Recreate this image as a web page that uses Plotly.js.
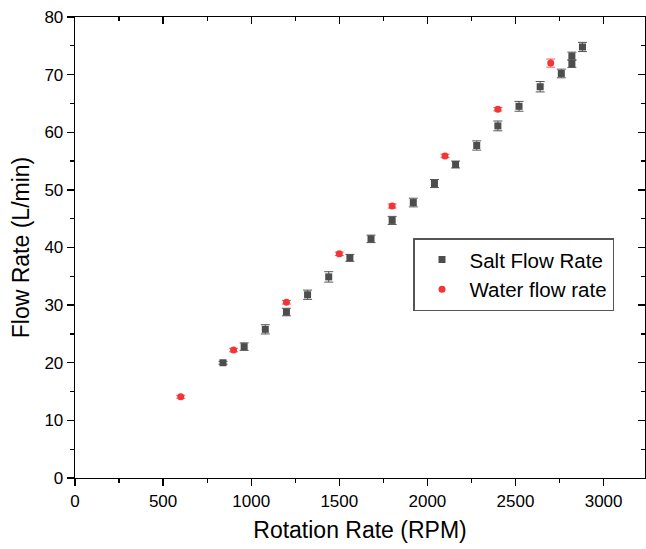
<!DOCTYPE html>
<html>
<head>
<meta charset="utf-8">
<script src="https://cdn.plot.ly/plotly-3.0.1.min.js"></script>
<style>html,body{margin:0;padding:0;background:#fff;}#chart{width:646px;height:549px;}</style>
</head>
<body>
<div id="chart"></div>
<script>
// Salt flow rate data
const saltRPM  = [840, 960, 1080, 1200, 1320, 1440, 1560, 1680, 1800, 1920, 2040, 2160, 2280, 2400, 2520, 2640, 2760, 2820, 2820, 2880];
const saltFlow = [20.0, 22.8, 25.8, 28.8, 31.8, 34.9, 38.2, 41.5, 44.7, 47.8, 51.1, 54.4, 57.7, 61.1, 64.5, 67.9, 70.2, 71.9, 73.2, 74.8];
const saltErr  = [0.25, 0.65, 0.8, 0.65, 0.8, 0.9, 0.6, 0.65, 0.7, 0.75, 0.7, 0.6, 0.8, 0.85, 0.85, 0.9, 0.75, 0.65, 0.7, 0.8];
// Water flow rate data
const waterRPM  = [600, 900, 1200, 1500, 1800, 2100, 2400, 2700];
const waterFlow = [14.1, 22.2, 30.5, 38.9, 47.2, 55.9, 64.0, 72.0];
const waterErr  = [0.25, 0.3, 0.3, 0.3, 0.35, 0.3, 0.3, 0.7];
// Axis ticks
const xTicks = [0, 500, 1000, 1500, 2000, 2500, 3000];
const yTicks = [0, 10, 20, 30, 40, 50, 60, 70, 80];
const xRange = [0, 3235];
const yRange = [0, 80];

const font = 'Arial, "Liberation Sans", sans-serif';

const traces = [
  {
    x: saltRPM, y: saltFlow, name: 'Salt Flow Rate', type: 'scatter', mode: 'markers',
    marker: {symbol: 'square', size: 7, color: '#4d4d4d'},
    error_y: {type: 'data', array: saltErr, visible: true, color: '#555555', thickness: 1, width: 4.5}
  },
  {
    x: waterRPM, y: waterFlow, name: 'Water flow rate', type: 'scatter', mode: 'markers',
    marker: {symbol: 'circle', size: 7, color: '#f23535'},
    error_y: {type: 'data', array: waterErr, visible: true, color: '#f55a5a', thickness: 1, width: 4.5}
  },
  {x: [], y: [], xaxis: 'x2', yaxis: 'y2', showlegend: false, hoverinfo: 'skip', type: 'scatter'}
];

const axisCommon = {
  showgrid: false, zeroline: false, showline: true, linecolor: '#000', linewidth: 1.3,
  tickcolor: '#000', tickwidth: 1.3, ticklen: 7,
  tickfont: {family: font, size: 17, color: '#000'}
};

const layout = {
  width: 646, height: 549,
  margin: {l: 75, r: 1, t: 17, b: 71},
  paper_bgcolor: '#fff', plot_bgcolor: '#fff',
  showlegend: true,
  legend: {
    x: 0.593, y: 0.52, xanchor: 'left', yanchor: 'top',
    bordercolor: '#555', borderwidth: 1.5, bgcolor: '#fff',
    font: {family: font, size: 20.5, color: '#000'},
    itemwidth: 45, tracegroupgap: 0
  },
  xaxis: Object.assign({}, axisCommon, {
    range: xRange, tickmode: 'array', tickvals: xTicks, ticktext: xTicks.map(String),
    ticks: 'outside',
    minor: {ticks: 'outside', ticklen: 4, tickwidth: 1.3, tickcolor: '#000', dtick: 250, tick0: 0},
    title: {text: 'Rotation Rate (RPM)', font: {family: font, size: 23, color: '#000'}, standoff: 12}
  }),
  yaxis: Object.assign({}, axisCommon, {
    range: yRange, tickmode: 'array', tickvals: yTicks, ticktext: yTicks.map(String),
    ticks: 'outside',
    minor: {ticks: 'outside', ticklen: 4, tickwidth: 1.3, tickcolor: '#000', dtick: 5, tick0: 0},
    title: {text: 'Flow Rate (L/min)', font: {family: font, size: 23, color: '#000'}, standoff: 8}
  }),
  xaxis2: Object.assign({}, axisCommon, {
    range: xRange, overlaying: 'x', side: 'top', anchor: 'y2',
    tickmode: 'array', tickvals: xTicks, showticklabels: false, ticks: 'inside',
    minor: {ticks: 'inside', ticklen: 4, tickwidth: 1.3, tickcolor: '#000', dtick: 250, tick0: 0}
  }),
  yaxis2: Object.assign({}, axisCommon, {
    range: yRange, overlaying: 'y', side: 'right', anchor: 'x2',
    tickmode: 'array', tickvals: yTicks, showticklabels: false, ticks: 'inside',
    minor: {ticks: 'inside', ticklen: 4, tickwidth: 1.3, tickcolor: '#000', dtick: 5, tick0: 0}
  })
};

Plotly.newPlot('chart', traces, layout, {displayModeBar: false, staticPlot: true});
</script>
</body>
</html>
